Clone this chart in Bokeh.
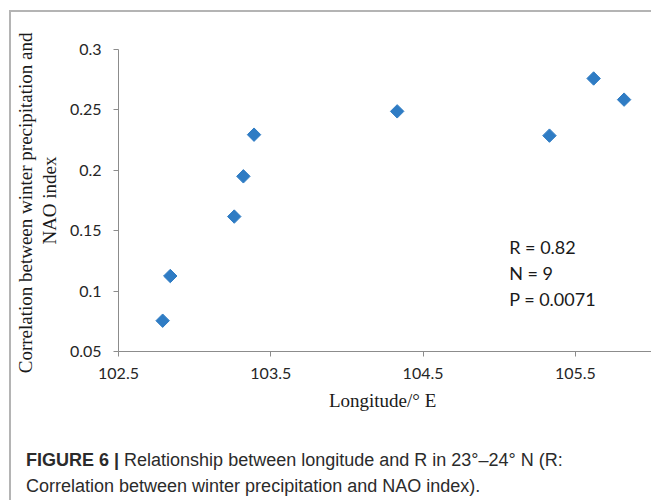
import math
from bokeh.plotting import figure
from bokeh.models import Range1d, FixedTicker, Label, LinearAxis, Div
from bokeh.layouts import column
from bokeh.embed import file_html
from bokeh.resources import INLINE

# ---- data ----
longitude = [102.79, 102.84, 103.26, 103.32, 103.39, 104.33, 105.33, 105.62, 105.82]
corr_r = [0.0755, 0.1125, 0.1617, 0.195, 0.2295, 0.2488, 0.2287, 0.276, 0.2585]
x_ticks = [102.5, 103.5, 104.5, 105.5]
x_tick_labels = ["102.5", "103.5", "104.5", "105.5"]
y_ticks = [0.05, 0.1, 0.15, 0.2, 0.25, 0.3]
y_tick_labels = ["0.05", "0.1", "0.15", "0.2", "0.25", "0.3"]
stats_lines = ["R = 0.82", "N = 9", "P = 0.0071"]
y_title = ["Correlation  between winter precipitation and", "NAO index"]
x_title = "Longitude/°  E"
caption_bold = "FIGURE 6 |"
caption_rest = ["Relationship between longitude and R in 23°–24° N (R:",
                "Correlation between winter precipitation and NAO index)."]

X0, X1 = 102.5, 106.0
Y0, Y1 = 0.05, 0.3

# page-pixel -> data helpers (for placing text inside the frame)
FL, FR, FT, FB = 116.7, 650.5, 49.3, 350.7
def dx(px):
    return X0 + (px - FL) / (FR - FL) * (X1 - X0)
def dy(py):
    return Y0 + (FB - py) / (FB - FT) * (Y1 - Y0)

p = figure(width=640, height=413, output_backend="svg", toolbar_location=None,
           x_range=Range1d(X0, X1), y_range=Range1d(Y0, Y1),
           min_border_left=106, min_border_right=0, min_border_top=37, min_border_bottom=74)
p.outline_line_color = None
p.grid.grid_line_color = None
p.background_fill_color = "white"
p.border_fill_color = "white"

axis_col = "#8c8c8c"
for ax in (p.xaxis[0], p.yaxis[0]):
    ax.axis_line_color = axis_col
    ax.major_tick_line_color = axis_col
    ax.minor_tick_line_color = None
    ax.major_tick_in = 0
    ax.major_tick_out = 5
    ax.major_label_text_font = "Lato"
    ax.major_label_text_font_size = "16px"
    ax.major_label_text_color = "#262626"

p.xaxis.ticker = FixedTicker(ticks=x_ticks)
p.xaxis.major_label_overrides = dict(zip(x_ticks, x_tick_labels))
p.xaxis.major_label_standoff = 11
p.yaxis.ticker = FixedTicker(ticks=y_ticks)
p.yaxis.major_label_overrides = dict(zip(y_ticks, y_tick_labels))
p.yaxis.major_label_standoff = 12

title_font = "Liberation Serif"
p.xaxis.axis_label = x_title
p.xaxis.axis_label_text_font = title_font
p.xaxis.axis_label_text_font_style = "normal"
p.xaxis.axis_label_text_font_size = "19px"
p.xaxis.axis_label_text_color = "#1a1a1a"
p.xaxis.axis_label_standoff = 8

# y-axis title, line 2 on the main axis, line 1 on an outer label-only axis
p.yaxis.axis_label = y_title[1]
p.yaxis.axis_label_text_font = title_font
p.yaxis.axis_label_text_font_style = "normal"
p.yaxis.axis_label_text_font_size = "19px"
p.yaxis.axis_label_text_color = "#1a1a1a"
p.yaxis.axis_label_standoff = 7

outer = LinearAxis(ticker=FixedTicker(ticks=[]), axis_label=y_title[0],
                   axis_line_color=None, major_tick_line_color=None,
                   minor_tick_line_color=None, major_tick_out=0, major_tick_in=0,
                   major_label_standoff=0, axis_label_standoff=0,
                   axis_label_text_font=title_font, axis_label_text_font_style="normal",
                   axis_label_text_font_size="19px", axis_label_text_color="#1a1a1a")
p.add_layout(outer, "left")

p.scatter(longitude, corr_r, marker="square", angle=math.pi / 4, size=9.5,
          fill_color="#2f7cc4", line_color="#2f7cc4")

# statistics text
for i, txt in enumerate(stats_lines):
    p.add_layout(Label(x=dx(508), y=dy(246 + 26 * i), text=txt,
                       text_align="left", text_baseline="alphabetic",
                       text_font="Lato", text_font_size="18px", text_color="#1a1a1a"))

caption_html = ("<b>" + caption_bold + "</b> " + caption_rest[0] + "<br>" + caption_rest[1])
cap = Div(text=caption_html, width=630, height=75,
          styles={"font-family": "'Liberation Sans', Arial, sans-serif",
                  "font-size": "18px", "line-height": "26px", "color": "#2b2b2b",
                  "padding-top": "22px", "padding-left": "15px", "margin": "0px",
                  "white-space": "nowrap"})

layout = column(p, cap, spacing=0,
                styles={"margin-left": "9px", "margin-top": "10px",
                        "border-top": "2px solid #b4b4b4", "border-left": "2px solid #b4b4b4"})

open("out.html", "w").write(file_html(layout, INLINE))
